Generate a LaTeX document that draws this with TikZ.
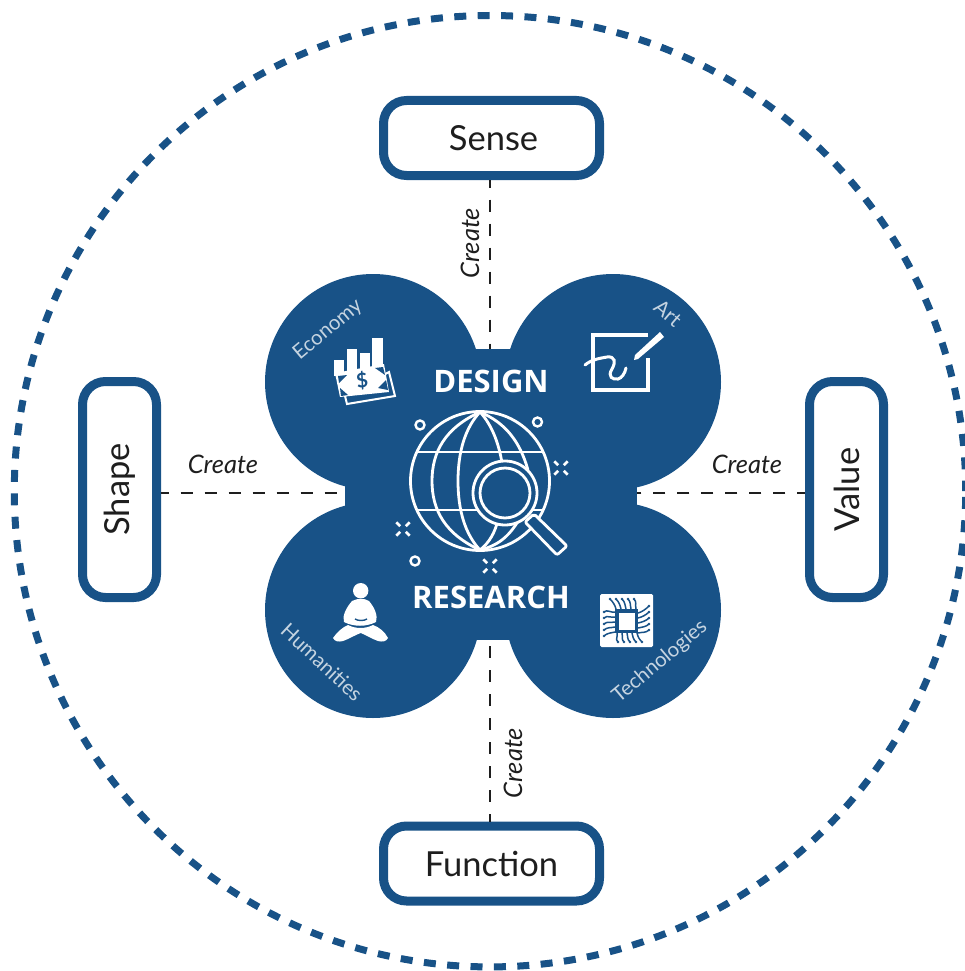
\documentclass[tikz,border=0pt]{standalone}
\usepackage{fontspec}
\setmainfont{Lato}
\newfontfamily\titlefont{Open Sans}
\usetikzlibrary{positioning,calc}
\definecolor{dsgblue}{HTML}{185287}
\definecolor{dsgink}{HTML}{1E1E1E}
\tikzset{
  pillar/.style = {draw=dsgblue, line width=9pt, rounded corners=23pt, fill=white, text=dsgink, align=center, font=\fontsize{34.5}{38}\selectfont, inner sep=0pt},
  widebox/.style = {pillar, minimum width=216pt, minimum height=75pt},
  tallbox/.style = {pillar, minimum width=74pt, minimum height=216pt},
  link/.style = {draw=dsgink, line width=2.3pt, dash pattern=on 12.3pt off 11.7pt, dash phase=4.3pt},
  verb/.style = {text=dsgink, font=\itshape\fontsize{25.5}{28}\selectfont, inner sep=0pt},
  lobe/.style = {circle, fill=dsgblue, minimum size=216pt, inner sep=0pt},
  field/.style = {text=white!75!dsgblue, font=\fontsize{20.5}{24}\selectfont, inner sep=0pt},
  title/.style = {text=white, font=\titlefont\bfseries\fontsize{31}{34}\selectfont, inner sep=0pt},
  sketch/.style = {draw=white, line width=2.8pt, line join=round},
  trace/.style = {draw=dsgblue, line width=1.5pt},
  spark/.pic = {
    \foreach \a in {45,135,225,315}
      \draw[white, line width=2.6pt] (\a:4) -- (\a:9.5);
  }
}
\begin{document}
\begin{tikzpicture}[x=1pt,y=-1pt]
\useasboundingbox (0,0) rectangle (964,971);
\draw[draw=dsgblue, line width=7pt, dash pattern=on 12pt off 11.41pt, dash phase=17.7pt] (490,491.2) circle [radius=475.7];

% the four lobes and the block that joins them
\node[lobe] (economy) at (373,382) {};
\node[lobe] (art) at (613,382) {};
\node[lobe] (humanities) at (373,610) {};
\node[lobe] (technologies) at (613,610) {};
\node[fill=dsgblue, minimum width=292pt, minimum height=291pt, inner sep=0pt] (hub) at (491,494.5) {};

\node[widebox] (sense) at (491.5,138) {\hspace{4pt}Sense};
\node[widebox] (function) at (491.5,863.5) {Function};
\node[tallbox] (shape) at (119.5,489.5) {\rotatebox{90}{Shape}};
\node[tallbox] (value) at (846.5,489.5) {\rotatebox{90}{Value}};

\coordinate (gaten) at (490,349);
\coordinate (gates) at (490,640);
\coordinate (gatew) at (345,492.7);
\coordinate (gatee) at (637,492.7);
\draw[link] (sense.south -| gaten) -- (gaten);
\draw[link] (function.north -| gates) -- (gates);
\draw[link] (shape.east |- gatew) -- (gatew);
\draw[link] (value.west |- gatee) -- (gatee);

\node[verb, rotate=90] (create1) at (470,243) {Create};
\node[verb, rotate=90] (create2) at (513,763) {Create};
\node[verb] (create3) at (223,464) {Create};
\node[verb] (create4) at (747,464) {Create};

\node[title] (design) at (491,381) {DESIGN};
\node[title] (research) at (491,597) {RESEARCH};

\node[field, rotate=40] (economylabel) at (328,330) {Economy};
\node[field, rotate=-40] (artlabel) at (668,313) {Art};
\node[field, rotate=-43] (humanitieslabel) at (322,662) {Humanities};
\node[field, rotate=40] (technologieslabel) at (660,662) {Technologies};

% globe
\draw[sketch] (480,481) circle [radius=69.5];
\draw[sketch] (480,412) .. controls (445,428) and (432,452) .. (432,481) .. controls (432,510) and (445,534) .. (480,550);
\draw[sketch] (480,412) .. controls (465,428) and (458,452) .. (458,481) .. controls (458,510) and (465,534) .. (480,550);
\draw[sketch] (480,412) .. controls (492,425) and (500,445) .. (503,470);
\draw[sketch] (480,412) .. controls (506,423) and (520,442) .. (528,470);
\draw[sketch] (480,550) .. controls (490,542) and (495,532) .. (498,520);
\draw[sketch] (480,550) .. controls (500,545) and (510,535) .. (520,518);
\draw[sketch] (417,452) -- (543,452);
\draw[sketch] (417,510) -- (543,510);
% lens and handle
\draw[sketch, fill=dsgblue] (505,493) circle [radius=32];
\draw[sketch] (505,493) circle [radius=25];
\draw[sketch, fill=dsgblue, rounded corners=2pt] (525,522) -- (534,514) -- (567,546) -- (557,555) -- cycle;
% small marks round the globe
\draw[white, line width=2.4pt] (420,425) circle [radius=4.5];
\draw[white, line width=2.4pt] (537.5,422) circle [radius=4.5];
\draw[white, line width=2.4pt] (415,561) circle [radius=4.5];
\pic at (561,468) {spark};
\pic at (403,529) {spark};
\pic at (490,566) {spark};

% economy icon
\fill[white] (334,360) rectangle (344,376);
\fill[white] (347,349) rectangle (357,372);
\fill[white] (360,353) rectangle (370,370);
\fill[white] (372,338) rectangle (383,366);
\draw[white, line width=2pt, fill=dsgblue] (345,396) -- (347,404) -- (395,396) -- (389,372) -- cycle;
\fill[white] (335,373) -- (384,364) -- (389,392) -- (340,397) -- cycle;
\fill[dsgblue] (338,376) -- (347,375) -- (339,383) -- cycle;
\fill[dsgblue] (375,368) -- (383,367) -- (385,375) -- cycle;
\fill[dsgblue] (340,388) -- (348,395) -- (341,396) -- cycle;
\fill[dsgblue] (378,388) -- (386,380) -- (388,390) -- cycle;
\node[text=dsgblue, font=\bfseries\fontsize{20}{20}\selectfont, inner sep=0pt, rotate=8] (dollar) at (362,381) {\$};

% art icon
\draw[white, line width=3.6pt] (648,358) -- (648,390) -- (593,390) -- (593,335) -- (648,335);
\draw[white, line width=3pt, line cap=round] (585,365) .. controls (592,359) and (602,358) .. (607,357) .. controls (615,356) and (616,362) .. (612,369) .. controls (607,377) and (613,380) .. (618,379) .. controls (622,378) and (625,373) .. (626,368);
\fill[white] (635,355) -- (660,332) -- (664,337) -- (638,359) -- (634,360) -- cycle;

% humanities icon
\fill[white] (360.7,590.7) circle [radius=7.7];
\fill[white] (352,601) .. controls (358,598) and (364,598) .. (369,601) .. controls (375,608) and (378,616) .. (376,622) .. controls (366,627) and (354,627) .. (344,622) .. controls (342,616) and (346,608) .. (352,601) -- cycle;
\fill[white] (333,638) .. controls (337,632) and (343,627) .. (348,625) .. controls (356,629) and (365,629) .. (373,625) .. controls (379,627) and (385,632) .. (388,638) .. controls (386,642) and (382,642) .. (378,641) .. controls (372,639) and (366,635) .. (360.7,633) .. controls (355,635) and (349,639) .. (343,641) .. controls (339,642) and (335,642) .. (333,638) -- cycle;
\draw[dsgblue, line width=1.4pt] (355,619) .. controls (358,621) and (364,621) .. (367,619);

% technologies icon
\fill[white, rounded corners=1.5pt] (600,594) rectangle (653,647);
\fill[dsgblue] (615,609) rectangle (638,633);
\fill[white] (618.5,612.5) rectangle (634.5,629.5);
\foreach \i in {0,...,4} {
  \draw[trace] ({610+\i*6},599) .. controls +(3,3) and +(-1,-4) .. ({616+\i*5},609);
  \draw[trace] ({617+\i*5},633) .. controls +(1,4) and +(-3,-3) .. ({618+\i*6},642);
  \draw[trace] (604,{612+\i*6}) .. controls +(3,-3) and +(-4,1) .. (615,{612+\i*5});
  \draw[trace] (638,{613+\i*5}) .. controls +(4,-1) and +(-3,3) .. (649,{606+\i*6});
  \fill[dsgblue] ({610+\i*6},599) circle [radius=1.4];
  \fill[dsgblue] ({618+\i*6},642) circle [radius=1.4];
  \fill[dsgblue] (604,{612+\i*6}) circle [radius=1.4];
  \fill[dsgblue] (649,{606+\i*6}) circle [radius=1.4];
}
\end{tikzpicture}
\end{document}
